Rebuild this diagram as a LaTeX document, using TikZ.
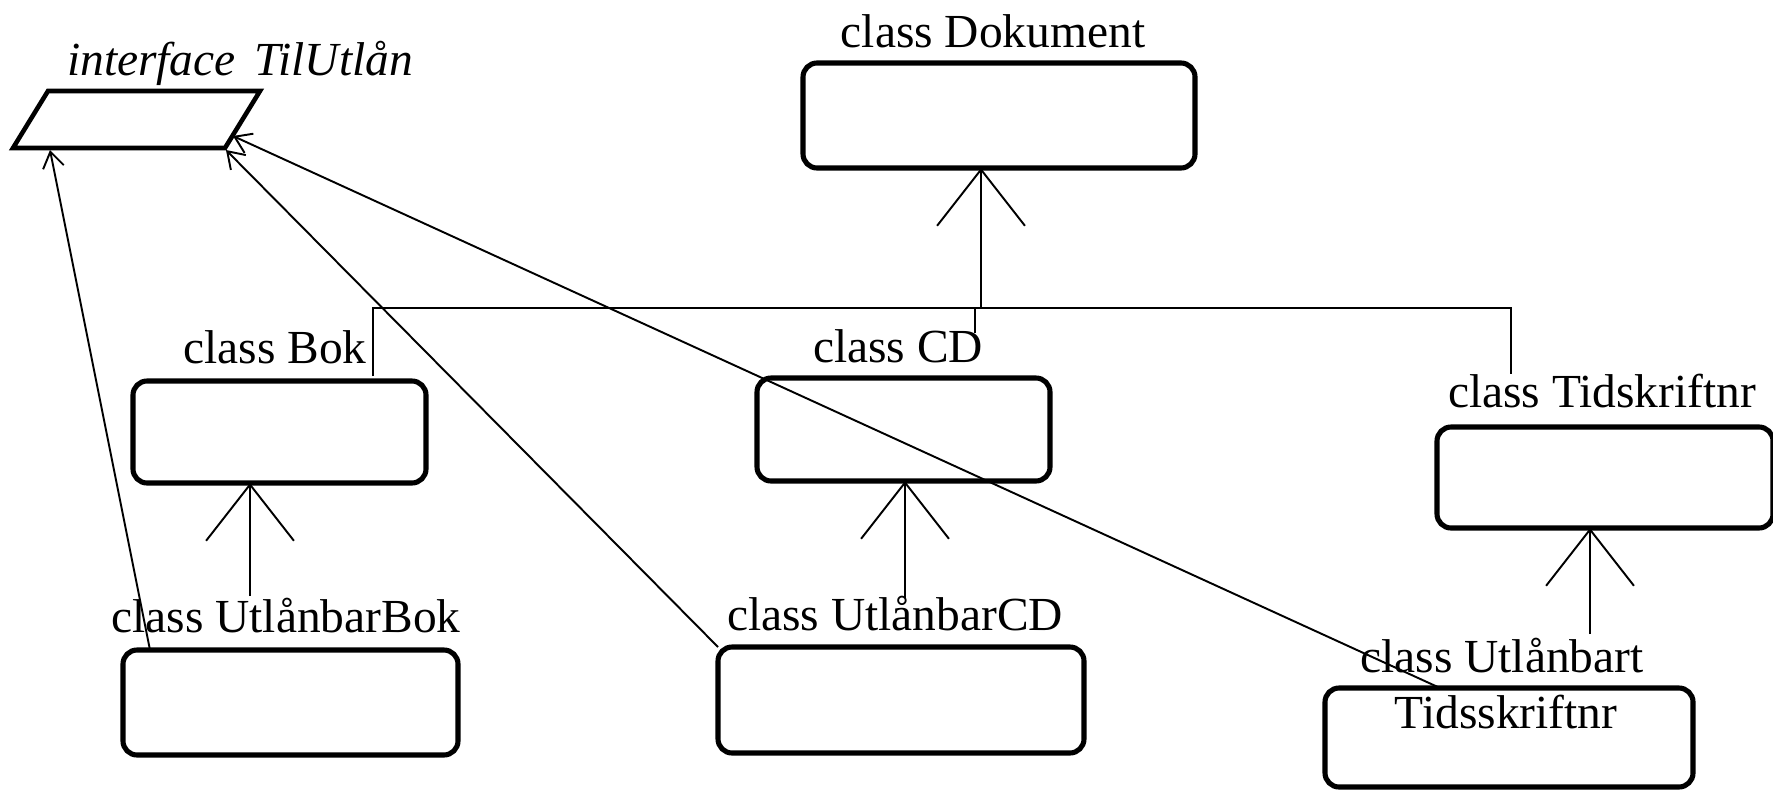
\documentclass[tikz,border=0pt]{standalone}
\usepackage{fontspec}
\setmainfont{Liberation Serif}
\usetikzlibrary{arrows.meta,fit,calc}
\begin{document}
\begin{tikzpicture}[x=0.02cm,y=-0.02cm,
  box/.style={draw,line width=2.9pt,rounded corners=8pt,inner sep=0pt,outer sep=0pt},
  lbl/.style={anchor=base,inner sep=0pt,font=\fontsize{27}{32}\selectfont},
  conn/.style={line width=1.1pt},
  gen/.style={conn,-{Straight Barb[length=32pt,width=50pt,line width=1.1pt]}},
  real/.style={conn,-{Straight Barb[length=9pt,width=12pt,line width=1.1pt]}}]
\useasboundingbox (0,0) rectangle (1773,791);

% interface parallelogram
\coordinate (ptl) at (48,91);
\coordinate (ptr) at (260,91);
\coordinate (pbr) at (225,148);
\coordinate (pbl) at (13,148);
\draw[line width=2.6pt,line join=miter] (ptl) -- (ptr) -- (pbr) -- (pbl) -- cycle;
\node[lbl,font=\fontsize{27}{32}\selectfont\itshape] (ifclbl) at (240,75) {interface\hspace{0.4em}TilUtlån};
\coordinate (ifcA) at (50,150);
\coordinate (ifcB) at (226,150);
\coordinate (ifcC) at (233,136);

% boxes
\node[box,fit={(803,63) (1195,168)}] (dok) {};
\node[box,fit={(133,381) (426,483)}] (bok) {};
\node[box,fit={(757,378) (1050,481)}] (cd) {};
\node[box,fit={(1437,427) (1773,528)}] (tid) {};
\node[box,fit={(123,650) (458,755)}] (ubok) {};
\node[box,fit={(718,647) (1084,753)}] (ucd) {};
\node[box,fit={(1325,688) (1693,787)}] (utid) {};

% labels
\node[lbl] (doklbl) at (993,47) {class Dokument};
\node[lbl] (boklbl) at (275,363) {class Bok};
\node[lbl] (cdlbl) at (898,362) {class CD};
\node[lbl] (tidlbl) at (1602,407) {class Tidskriftnr};
\node[lbl] (ubokbl) at (286,632) {class UtlånbarBok};
\node[lbl] (ucdlbl) at (895,630) {class UtlånbarCD};
\node[lbl] (utidlbl) at (1502,672) {class Utlånbart};
\node[lbl] (utidlbl2) at (1506,728) {Tidsskriftnr};

% inheritance tree under Dokument
\coordinate (barL) at (373,308);
\coordinate (barR) at (1511,308);
\coordinate (dokjoin) at (981,308);
\coordinate (bokend) at (373,376);
\coordinate (tidend) at (1511,374);
\draw[conn] (bokend) -- (barL) -- (barR) -- (tidend);
\draw[gen] (dokjoin) -- (dokjoin |- dok.south);
\coordinate (tickA) at (975,309);
\coordinate (tickB) at (975,333);
\draw[conn] (tickA) -- (tickB);

% subclass arrows
\coordinate (j1) at (250,596);
\coordinate (j2) at (905,598);
\coordinate (j3) at (1590,634);
\draw[gen] (j1) -- (j1 |- bok.south);
\draw[gen] (j2) -- (j2 |- cd.south);
\draw[gen] (j3) -- (j3 |- tid.south);

% realization arrows to interface
\draw[real] ($(ubok.north west)+(27,0)$) -- (ifcA);
\draw[real] (ucd.north west) -- (ifcB);
\draw[real] ($(utid.north west)+(115,0)$) -- (ifcC);
\end{tikzpicture}
\end{document}
